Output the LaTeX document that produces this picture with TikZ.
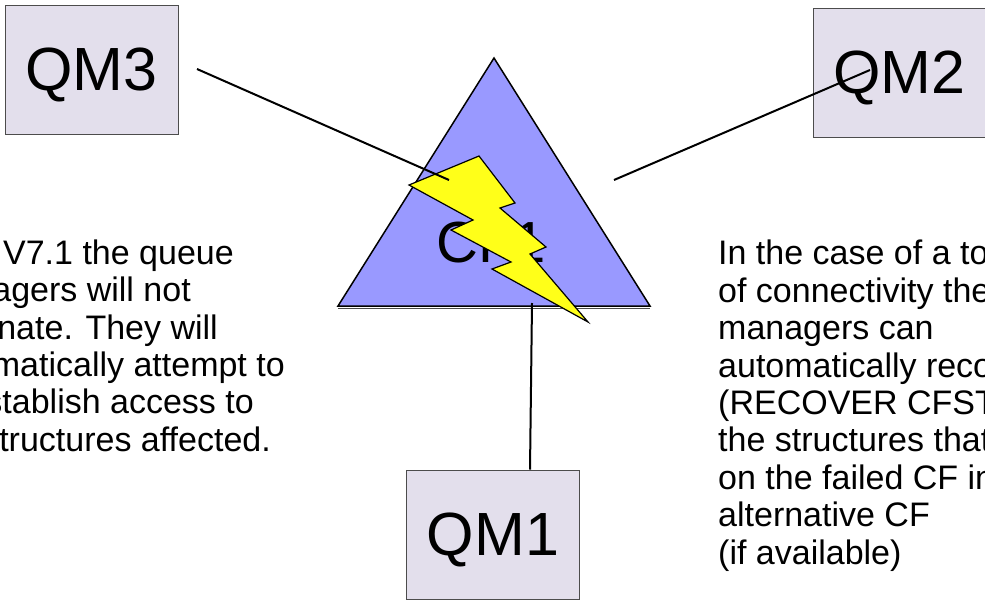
\documentclass[tikz,border=0pt]{standalone}
\usepackage{fontspec}
\setmainfont{Liberation Sans}
\tikzset{
  qmbox/.style={draw=black!70,fill=qmfill,line width=1pt,minimum width=173pt,minimum height=129pt,inner sep=0pt,text height=47pt,text depth=6pt,font=\fontsize{61}{61}\selectfont},
  link/.style={line width=2pt},
  note/.style={inner sep=0pt,font=\fontsize{34}{37.4}\selectfont}
}
\definecolor{qmfill}{HTML}{E3DFEC}
\definecolor{cffill}{HTML}{9999FF}
\definecolor{boltfill}{HTML}{FFFF19}
\begin{document}
\begin{tikzpicture}[x=1pt,y=-1pt]
      \useasboundingbox (0,0) rectangle (985,600);
      \fill[white] (0,0) rectangle (985,600);
      \node[qmbox] (qm3) at (91.5,69.5) {QM3};
      \node[qmbox] (qm2) at (899.5,72.5) {QM2};
      \node[qmbox] (qm1) at (493,534.5) {QM1};
      \draw[fill=cffill,line width=1.5pt] (494,58) -- (650,306) -- (338,306) -- cycle;
      \draw[black!70,line width=1pt] (338,308) -- (650,308);
      \node[font=\fontsize{58}{58}\selectfont] (cf1) at (491,243) {CF1};
      \draw[fill=boltfill,line width=1.2pt,line join=miter]
        (409,185) -- (479,156) -- (515,203) -- (500,208) -- (546,247) -- (530,254)
        -- (588,322) -- (492,269) -- (511,262) -- (451,230) -- (473,220) -- cycle;
      \coordinate (qm3end) at (197,69);
      \coordinate (cf3end) at (449,180);
      \coordinate (qm2end) at (870,70);
      \coordinate (cf2end) at (614,180);
      \coordinate (cf1end) at (532,303);
      \draw[link] (qm3end) -- (cf3end);
      \draw[link] (cf2end) -- (qm2end);
      \draw[link] (qm1.north -| 530,0) -- (cf1end);
      \foreach \i/\x/\y/\t in {1/234/264/V7.1 the queue,2/191/301/agers will not,3/218/339/nate. They will,
        4/285/376/matically attempt to,5/254/413/stablish access to,6/271/451/tructures affected.}
      \node[note,anchor=base east] (left\i) at (\x,\y) {\t};
      \node[note,anchor=base west,align=left] (right) at (718,564) {In the case of a to\\of connectivity the\\managers can\\automatically reco\\(RECOVER CFST\\the structures that\\on the failed CF in\\alternative CF\\(if available)};
    \end{tikzpicture}
\end{document}
